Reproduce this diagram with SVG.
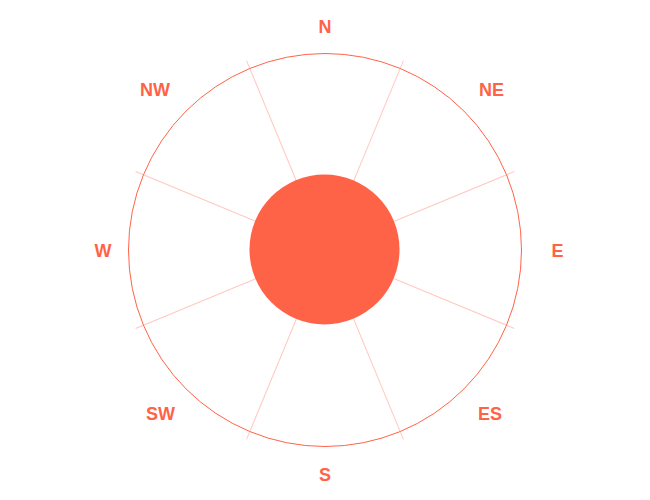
<svg xmlns="http://www.w3.org/2000/svg" width="650" height="500" viewBox="0 0 650 500">
<style>
.spoke{stroke:#ff6347;stroke-opacity:0.35;stroke-width:1;fill:none}
.ring{stroke:#ff6347;stroke-width:1;fill:none}
.core{fill:#ff6347}
.lbl{font-family:"Liberation Sans",Arial,sans-serif;font-size:18px;font-weight:bold;fill:#ff6347;text-anchor:middle}
</style>
<rect width="650" height="500" fill="#ffffff"/>
<g id="connectors">
<g transform="translate(325,250)">
<line class="spoke" x1="0" y1="-75" x2="0" y2="-205" transform="rotate(22.5)"/>
<line class="spoke" x1="0" y1="-75" x2="0" y2="-205" transform="rotate(67.5)"/>
<line class="spoke" x1="0" y1="-75" x2="0" y2="-205" transform="rotate(112.5)"/>
<line class="spoke" x1="0" y1="-75" x2="0" y2="-205" transform="rotate(157.5)"/>
<line class="spoke" x1="0" y1="-75" x2="0" y2="-205" transform="rotate(202.5)"/>
<line class="spoke" x1="0" y1="-75" x2="0" y2="-205" transform="rotate(247.5)"/>
<line class="spoke" x1="0" y1="-75" x2="0" y2="-205" transform="rotate(292.5)"/>
<line class="spoke" x1="0" y1="-75" x2="0" y2="-205" transform="rotate(337.5)"/>
</g>
</g>
<g id="ring"><circle class="ring" cx="325" cy="250" r="196.5"/></g>
<g id="core"><circle class="core" cx="324.5" cy="249.5" r="75"/></g>
<g id="label-N"><text class="lbl" x="325" y="33">N</text></g>
<g id="label-NE"><text class="lbl" x="491.5" y="95.5">NE</text></g>
<g id="label-E"><text class="lbl" x="557.5" y="257">E</text></g>
<g id="label-ES"><text class="lbl" x="490" y="419.5">ES</text></g>
<g id="label-S"><text class="lbl" x="325" y="481">S</text></g>
<g id="label-SW"><text class="lbl" x="160.5" y="419.5">SW</text></g>
<g id="label-W"><text class="lbl" x="103" y="257">W</text></g>
<g id="label-NW"><text class="lbl" x="155" y="95.5">NW</text></g>
</svg>
